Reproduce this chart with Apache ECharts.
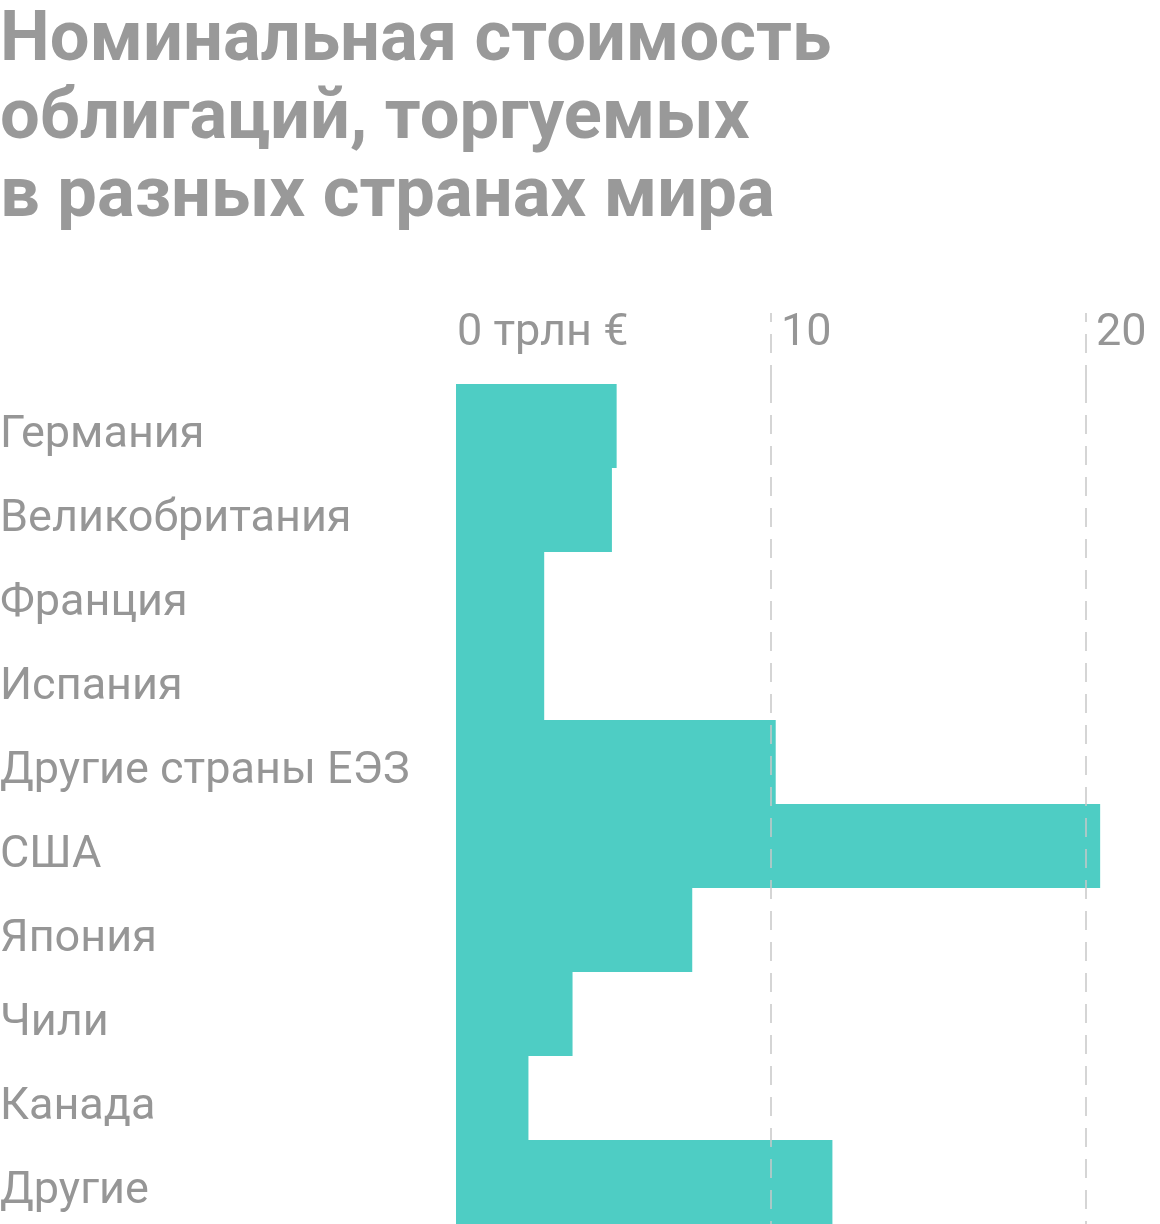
<!DOCTYPE html>
<html>
<head>
<meta charset="utf-8">
<script src="https://cdn.jsdelivr.net/npm/echarts@6.0.0/dist/echarts.min.js"></script>
<style>
  html, body { margin: 0; padding: 0; background: #fff; }
  #chart { width: 1160px; height: 1224px; }
</style>
</head>
<body>
<div id="chart"></div>
<script>
const titleText = 'Номинальная стоимость\nоблигаций, торгуемых\nв разных странах мира';
const categories = ['Германия', 'Великобритания', 'Франция', 'Испания', 'Другие страны ЕЭЗ', 'США', 'Япония', 'Чили', 'Канада', 'Другие'];
const values = [5.1, 4.95, 2.8, 2.8, 10.15, 20.45, 7.5, 3.7, 2.3, 11.95];
const gridValues = [10, 20];
const zeroLabel = '0 трлн €';

const dashStyle = { color: '#c8c8c8', width: 1.5, type: [19, 12] };

const chart = echarts.init(document.getElementById('chart'), null, { renderer: 'canvas' });
chart.setOption({
  animation: false,
  backgroundColor: '#fff',
  title: {
    text: titleText,
    left: 0,
    top: 3,
    padding: 0,
    textStyle: {
      fontFamily: 'Roboto',
      fontSize: 70.5,
      fontWeight: 'bold',
      lineHeight: 78,
      color: '#999999'
    }
  },
  grid: {
    left: 456,
    right: 0,
    top: 384,
    bottom: 0,
    outerBoundsMode: 'none'
  },
  xAxis: {
    type: 'value',
    position: 'top',
    min: 0,
    max: 22.35,
    interval: 10,
    z: 10,
    axisLine: { show: false },
    axisTick: {
      show: true,
      customValues: gridValues,
      length: 71,
      lineStyle: dashStyle
    },
    splitLine: { show: false },
    axisLabel: {
      show: true,
      margin: 50,
      align: 'left',
      verticalAlign: 'middle',
      fontFamily: 'Roboto',
      fontSize: 45,
      color: '#969696',
      formatter: function (v) {
        return v === 0 ? '{z|' + zeroLabel + '}' : '{n|' + v + '}';
      },
      rich: {
        z: { fontFamily: 'Roboto', fontSize: 45, color: '#969696', padding: [0, 0, 0, 1] },
        n: { fontFamily: 'Roboto', fontSize: 45, color: '#969696', padding: [0, 0, 0, 10] }
      }
    }
  },
  yAxis: {
    type: 'category',
    data: categories,
    inverse: true,
    axisLine: { show: false },
    axisTick: { show: false },
    splitLine: { show: false },
    axisLabel: {
      align: 'left',
      verticalAlign: 'middle',
      margin: 456,
      fontFamily: 'Roboto',
      fontSize: 45,
      color: '#969696',
      formatter: function (v) { return '{c|' + v + '}'; },
      rich: {
        c: { fontFamily: 'Roboto', fontSize: 45, color: '#969696', padding: [19, 0, 0, 0] }
      }
    }
  },
  series: [{
    type: 'bar',
    data: values,
    barWidth: '100%',
    barCategoryGap: 0,
    itemStyle: { color: '#4ECDC4' },
    silent: true,
    markLine: {
      silent: true,
      symbol: ['none', 'none'],
      label: { show: false },
      lineStyle: dashStyle,
      emphasis: { disabled: true },
      data: gridValues.map(function (v) { return { xAxis: v }; })
    }
  }]
});
</script>
</body>
</html>
